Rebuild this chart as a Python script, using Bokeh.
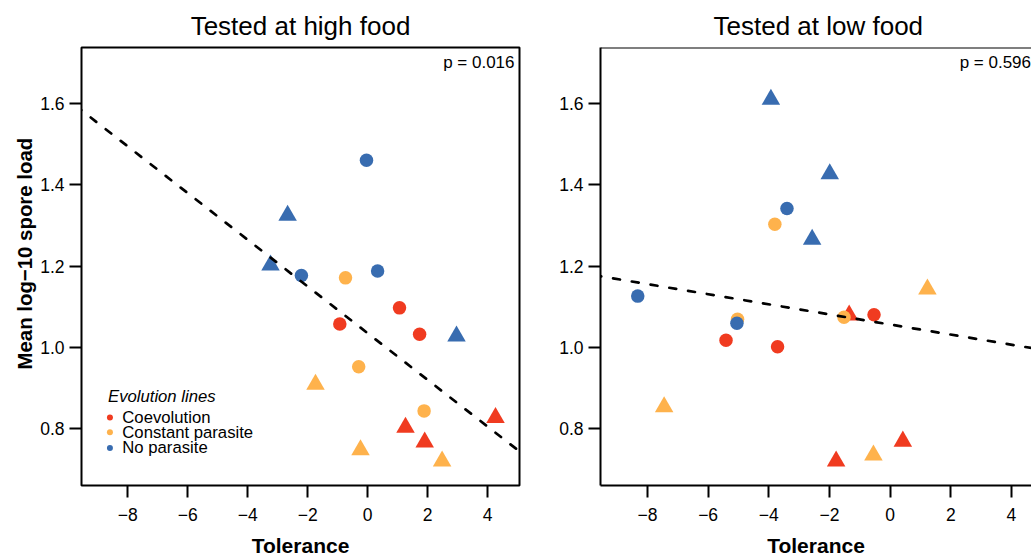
from bokeh.embed import file_html
from bokeh.layouts import row
from bokeh.models import (ColumnDataSource, CustomJSTickFormatter, FixedTicker,
                          Label, PrintfTickFormatter, Slope, Span, Title)
from bokeh.plotting import figure
from bokeh.resources import INLINE

# ---------------------------------------------------------------- data
evolution_lines = ["Coevolution", "Constant parasite", "No parasite"]
line_colors = ["#F03B20", "#FEB24C", "#386CB0"]

# tested at high food
high_tolerance = [1.06, -0.93, 1.73, 4.26, 1.26, 1.90,
                  -0.74, -0.30, 1.88, -1.74, -0.24, 2.48,
                  -0.04, -2.21, 0.33, -2.67, -3.24, 2.96]
high_spore_load = [1.097, 1.057, 1.032, 0.826, 0.802, 0.766,
                   1.171, 0.952, 0.843, 0.908, 0.747, 0.719,
                   1.461, 1.177, 1.188, 1.325, 1.202, 1.027]
high_line = (["Coevolution"] * 6 + ["Constant parasite"] * 6
             + ["No parasite"] * 6)
high_subgroup = ["A", "A", "A", "B", "B", "B"] * 3

# tested at low food
low_tolerance = [-1.35, -1.78, 0.42, -0.53, -5.41, -3.71,
                 1.23, -7.45, -0.55, -3.80, -5.03, -1.52,
                 -3.93, -1.99, -2.57, -3.40, -8.32, -5.05]
low_spore_load = [1.079, 0.719, 0.768, 1.080, 1.017, 1.001,
                  1.143, 0.853, 0.734, 1.303, 1.069, 1.074,
                  1.611, 1.427, 1.266, 1.342, 1.126, 1.059]
low_line = high_line
low_subgroup = ["B", "B", "B", "A", "A", "A",
                "B", "B", "B", "A", "A", "A",
                "B", "B", "B", "A", "A", "A"]

# fitted lines: (intercept, slope) and their p-values
high_fit = (1.0345, -0.0576)
low_fit = (1.056, -0.01245)
p_labels = ["p = 0.016", "p = 0.596"]

panel_titles = ["Tested at high food", "Tested at low food"]
x_ticks = [-8, -6, -4, -2, 0, 2, 4]
y_ticks = [0.8, 1.0, 1.2, 1.4, 1.6]
x_label = "Tolerance"
y_label = "Mean log\u221210 spore load"

# ---------------------------------------------------------------- style
FONT = "Liberation Sans"
INK = "black"
Y_RANGE = (0.659, 1.739)
FRAME_W = {"left": 438, "right": 431}
marker_of = {"A": "circle", "B": "triangle"}
size_of = {"A": 13.5, "B": 18.5}
color_of = dict(zip(evolution_lines, line_colors))

minus_formatter = CustomJSTickFormatter(code="""
    return tick < 0 ? "\\u2212" + Math.abs(tick) : tick.toString();
""")


def make_panel(title, tol, load, lines, sub, fit, p_text, x_range,
               width, border_left, border_right, frame_w, p_inset, boxed):
    p = figure(width=width, height=559, x_range=x_range, y_range=Y_RANGE,
               output_backend="svg", toolbar_location=None,
               min_border_left=border_left, min_border_right=border_right,
               min_border_top=47, min_border_bottom=73)
    p.background_fill_color = "white"
    p.border_fill_color = "white"
    p.grid.visible = False

    p.title.text = title
    p.title.text_font = FONT
    p.title.text_font_size = "26px"
    p.title.text_font_style = "normal"
    p.title.text_color = INK
    p.title.standoff = 14

    for ax in (p.xaxis[0], p.yaxis[0]):
        ax.major_tick_in = 0
        ax.major_tick_out = 12
        ax.major_tick_line_color = INK
        ax.major_tick_line_alpha = 1.0
        ax.major_tick_line_width = 2
        ax.minor_tick_line_color = None
        ax.major_label_text_font = FONT
        ax.major_label_text_font_size = "17.5px"
        ax.major_label_text_color = INK
    p.xaxis.major_label_standoff = 10
    p.yaxis.major_label_standoff = 5
    p.xaxis.ticker = FixedTicker(ticks=x_ticks, minor_ticks=[])
    p.xaxis.formatter = minus_formatter
    p.yaxis.ticker = FixedTicker(ticks=y_ticks, minor_ticks=[])
    p.yaxis.formatter = PrintfTickFormatter(format="%.1f")
    p.yaxis.major_label_orientation = "horizontal"
    p.xaxis.axis_label = x_label
    p.xaxis.axis_label_text_font = FONT
    p.xaxis.axis_label_text_font_size = "21px"
    p.xaxis.axis_label_text_font_style = "bold"
    p.xaxis.axis_label_text_color = INK
    p.xaxis.axis_label_standoff = 10

    if boxed:
        p.outline_line_color = INK
        p.outline_line_width = 2
        p.outline_line_alpha = 1
        p.xaxis.axis_line_color = None
        p.yaxis.axis_line_color = None
    else:
        p.outline_line_color = None
        p.xaxis.axis_line_color = INK
        p.yaxis.axis_line_color = INK
        p.xaxis.axis_line_width = 2
        p.yaxis.axis_line_width = 2
        p.add_layout(Span(location=Y_RANGE[1], dimension="width",
                          line_color=INK, line_width=2))

    src = ColumnDataSource(dict(
        tol=tol, load=load,
        color=[color_of[g] for g in lines],
        marker=[marker_of[s] for s in sub],
        size=[size_of[s] for s in sub],
    ))
    p.scatter("tol", "load", source=src, marker="marker", size="size",
              fill_color="color", line_color=None)

    p.add_layout(Slope(y_intercept=fit[0], gradient=fit[1],
                       line_color=INK, line_width=2.7,
                       line_dash="7 12", line_cap="round"))

    x0, x1 = x_range
    px = (x1 - x0) / frame_w
    p.add_layout(Label(x=x1 - p_inset * px, y=1.703, text=p_text,
                       text_font=FONT, text_font_size="17px",
                       text_color=INK,
                       text_align="right", text_baseline="alphabetic"))
    return p


left = make_panel(panel_titles[0], high_tolerance, high_spore_load,
                  high_line, high_subgroup, high_fit, p_labels[0],
                  (-9.54, 5.06), 530, 81, 11, FRAME_W["left"], 5, True)
left.title.align = "center"

right = make_panel(panel_titles[1], low_tolerance, low_spore_load,
                   low_line, low_subgroup, low_fit, p_labels[1],
                   (-9.548, 4.662), 501, 70, 0, FRAME_W["right"], 0.5, False)
right.title.align = "left"
right.title.offset = 113

# y-axis label of the left panel
left.add_layout(Title(text=y_label, align="left", offset=116,
                      text_font=FONT, text_font_size="20.4px",
                      text_font_style="bold", text_color=INK,
                      standoff=4), "left")

# legend of evolution lines, drawn inside the left panel
lx0, lx1 = -9.54, 5.06
key_x = lx0 + (lx1 - lx0) * 0.0649
text_x = lx0 + (lx1 - lx0) * 0.0932
head_x = lx0 + (lx1 - lx0) * 0.0605
key_y = [0.8268, 0.790, 0.7515]
left.add_layout(Label(x=head_x, y=0.8785, text="Evolution lines",
                      text_font=FONT, text_font_size="16.7px",
                      text_font_style="italic", text_color=INK,
                      text_baseline="middle"))
left.scatter(x=[key_x] * 3, y=key_y, marker="circle", size=6,
             fill_color=line_colors, line_color=None)
for name, ky in zip(evolution_lines, key_y):
    left.add_layout(Label(x=text_x, y=ky, text=name,
                          text_font=FONT, text_font_size="16.7px",
                          text_color=INK, text_baseline="middle"))

layout = row(left, right)
open("out.html", "w").write(file_html(layout, INLINE))
